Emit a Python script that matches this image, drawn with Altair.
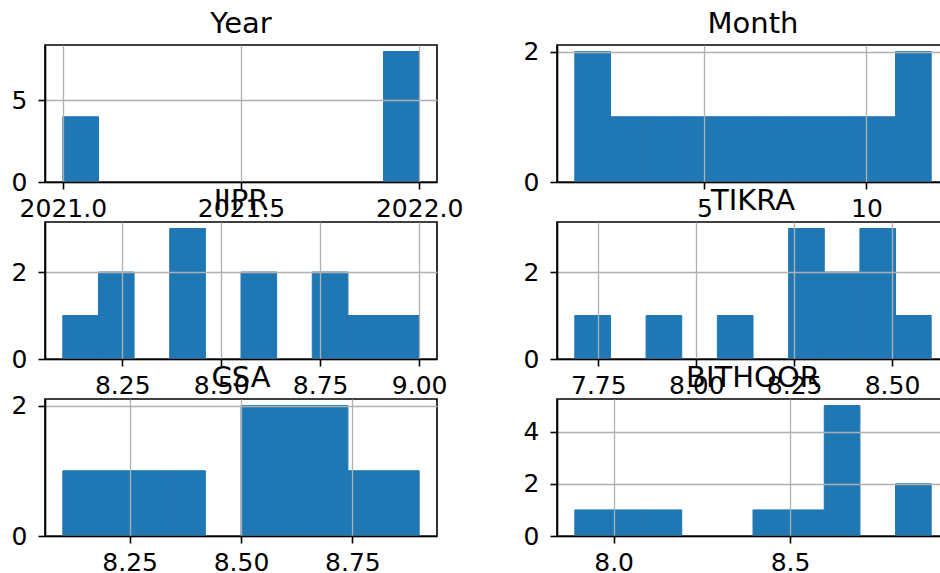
import altair as alt
import numpy as np
import pandas as pd

# Column names, value ranges (min, max) and 10-bin histogram counts
names = ["Year", "Month", "IIPR", "TIKRA", "CSA", "BITHOOR"]
ranges = {
    "Year": (2021.0, 2022.0),
    "Month": (1.0, 12.0),
    "IIPR": (8.1, 9.0),
    "TIKRA": (7.69, 8.6),
    "CSA": (8.1, 8.9),
    "BITHOOR": (7.89, 8.9),
}
year_counts = [4, 0, 0, 0, 0, 0, 0, 0, 0, 8]
month_counts = [2, 1, 1, 1, 1, 1, 1, 1, 1, 2]
iipr_counts = [1, 2, 0, 3, 0, 2, 0, 2, 1, 1]
tikra_counts = [1, 0, 1, 0, 1, 0, 3, 2, 3, 1]
csa_counts = [1, 1, 1, 1, 0, 2, 2, 2, 1, 1]
bithoor_counts = [1, 1, 1, 0, 0, 1, 1, 5, 0, 2]
counts = {
    "Year": year_counts,
    "Month": month_counts,
    "IIPR": iipr_counts,
    "TIKRA": tikra_counts,
    "CSA": csa_counts,
    "BITHOOR": bithoor_counts,
}

# Tick values and label formats per panel
x_ticks = {
    "Year": ([2021.0, 2021.5, 2022.0], ".1f"),
    "Month": ([5, 10], "d"),
    "IIPR": ([8.25, 8.5, 8.75, 9.0], ".2f"),
    "TIKRA": ([7.75, 8.0, 8.25, 8.5], ".2f"),
    "CSA": ([8.25, 8.5, 8.75], ".2f"),
    "BITHOOR": ([8.0, 8.5], ".1f"),
}
y_ticks = {
    "Year": [0, 5],
    "Month": [0, 1, 2],
    "IIPR": [0, 2],
    "TIKRA": [0, 2],
    "CSA": [0, 1, 2],
    "BITHOOR": [0, 2, 4],
}

FONT = "DejaVu Sans"
BLUE = "#1f77b4"
PANEL_W, PANEL_H = 392, 137

axis_style = dict(
    domainColor="black", domainWidth=1.6,
    tickColor="black", tickWidth=1.6, tickSize=7,
    labelFont=FONT, labelFontSize=25, labelColor="black",
    grid=True, gridColor="#b0b0b0", gridWidth=1.3,
    labelOverlap=False, labelFlush=False, labelBound=False,
    zindex=1, title=None,
)


def panel(name):
    lo, hi = ranges[name]
    c = counts[name]
    edges = np.linspace(lo, hi, len(c) + 1)
    df = pd.DataFrame({"start": edges[:-1], "end": edges[1:], "count": c})
    span = hi - lo
    xdom = [lo - 0.05 * span, hi + 0.05 * span]
    ydom = [0, 1.05 * max(c)]
    xv, xf = x_ticks[name]
    bars = (
        alt.Chart(df)
        .transform_filter("datum.count > 0")
        .mark_rect(color=BLUE, stroke=BLUE, strokeWidth=1)
        .encode(
            x=alt.X("start:Q",
                    scale=alt.Scale(domain=xdom, nice=False, zero=False),
                    axis=alt.Axis(values=xv, format=xf, labelPadding=7, **axis_style)),
            x2="end:Q",
            y=alt.Y("count:Q",
                    scale=alt.Scale(domain=ydom, nice=False, zero=True),
                    axis=alt.Axis(values=y_ticks[name], format="d", labelPadding=11, **axis_style)),
            y2=alt.datum(0),
        )
    )
    # panel heading, centred just above the frame
    heading = (
        alt.Chart(pd.DataFrame({"label": [name]}))
        .mark_text(font=FONT, fontSize=29, color="black", align="center",
                   baseline="alphabetic")
        .encode(text="label:N", x=alt.value(PANEL_W / 2), y=alt.value(-12))
    )
    return alt.layer(bars, heading).properties(width=PANEL_W, height=PANEL_H)


chart = (
    alt.concat(*[panel(n) for n in names], columns=2,
               spacing={"row": 40, "column": 120}, bounds="flush")
    .properties(
        autosize="none",
        padding={"left": 45, "top": 45, "right": 895, "bottom": 528},
        background="white",
    )
    .configure_view(stroke="black", strokeWidth=1.6)
)

chart.save("out.html", embed_options={"renderer": "svg", "actions": False})
